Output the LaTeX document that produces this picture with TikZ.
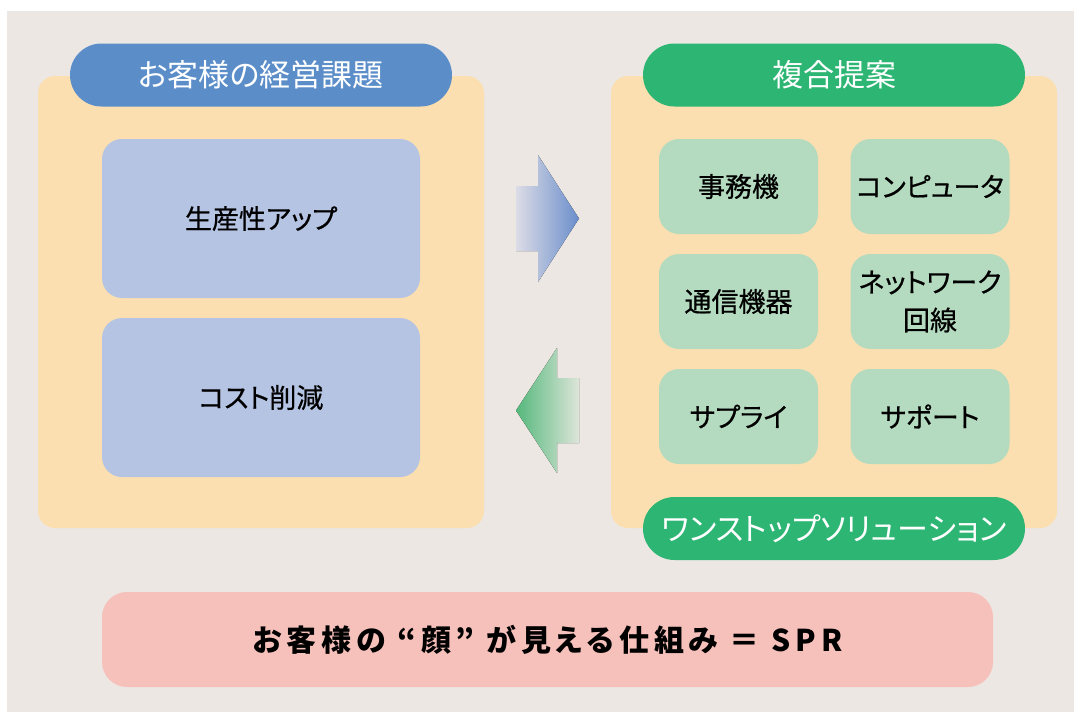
\documentclass[tikz,border=0pt]{standalone}
\usepackage{fontspec}
\setmainfont{Noto Sans CJK JP}[RawFeature=+palt]
\usepackage{tikz}
\usepackage{xcolor}

\definecolor{backc}{HTML}{ECE7E3}
\definecolor{panelc}{HTML}{FBDFB0}
\definecolor{bluepill}{HTML}{5B8DC9}
\definecolor{bluebox}{HTML}{B5C4E3}
\definecolor{greenpill}{HTML}{2DB673}
\definecolor{greenbox}{HTML}{B4DBBF}
\definecolor{pinkbar}{HTML}{F7C1BB}
\definecolor{arrowblue}{HTML}{6A8ECB}
\definecolor{arrowbluelight}{HTML}{DCDCE6}
\definecolor{arrowgreen}{HTML}{55B87B}
\definecolor{arrowgreenlight}{HTML}{DDE5DA}

\begin{document}
\begin{tikzpicture}[x=1pt,y=-1pt]
\tikzset{panel/.style={fill=panelc,rounded corners=17pt,minimum width=446pt,minimum height=452pt,inner sep=0pt},
         pill/.style={rounded corners=31.5pt,text=white,font=\fontsize{31}{36}\selectfont,
                      minimum width=382pt,minimum height=63pt,inner sep=0pt},
         issue/.style={fill=bluebox,rounded corners=20pt,minimum width=318pt,minimum height=159pt,
                       inner sep=0pt,font=\fontsize{27}{32}\selectfont\addfontfeature{FakeBold=0.6}},
         offer/.style={fill=greenbox,rounded corners=20pt,minimum width=159pt,minimum height=95pt,
                       inner sep=0pt,align=center,font=\fontsize{27}{38}\selectfont\addfontfeature{FakeBold=0.6}}}
\useasboundingbox (0,0) rectangle (1074,712);
\fill[backc] (7,11) rectangle (1074,712);
% left side
\node[panel] (leftpanel) at (261,302) {};
\node[pill,fill=bluepill] (lefttitle) at (261,75) {お客様の経営課題};
\node[issue] (up) at (261,218.5) {生産性アップ};
\node[issue] (cost) at (261,397.5) {コスト削減};
% right side
\node[panel] (rightpanel) at (834,302) {};
\node[pill,fill=greenpill] (righttitle) at (834,75) {複合提案};
\node[offer] (office) at (738.5,186.5) {事務機};
\node[offer] (computer) at (930,186.5) {コンピュータ};
\node[offer] (comm) at (738.5,301.5) {通信機器};
\node[offer] (network) at (930,301.5) {ネットワーク\\回線};
\node[offer] (supply) at (738.5,416.5) {サプライ};
\node[offer] (support) at (930,416.5) {サポート};
\node[pill,fill=greenpill] (onestop) at (834,528.5) {ワンストップソリューション};
% arrows
\fill[left color=arrowbluelight,right color=arrowblue] (516,186) -- (538,186) -- (538,155) -- (579,218.5)
   -- (538,282) -- (538,251) -- (516,251) -- cycle;
\fill[left color=arrowgreen,right color=arrowgreenlight] (579,378) -- (557,378) -- (557,348) -- (516,410.5)
   -- (557,473) -- (557,443) -- (579,443) -- cycle;
% bottom
\node[fill=pinkbar,rounded corners=25pt,minimum width=891pt,minimum height=95pt,inner sep=0pt,
      font=\fontsize{30}{36}\bfseries\addfontfeature{LetterSpace=16}] (spr) at (547.5,639.5)
      {お客様の “顔” が見える仕組み ＝ SPR};
\end{tikzpicture}
\end{document}
